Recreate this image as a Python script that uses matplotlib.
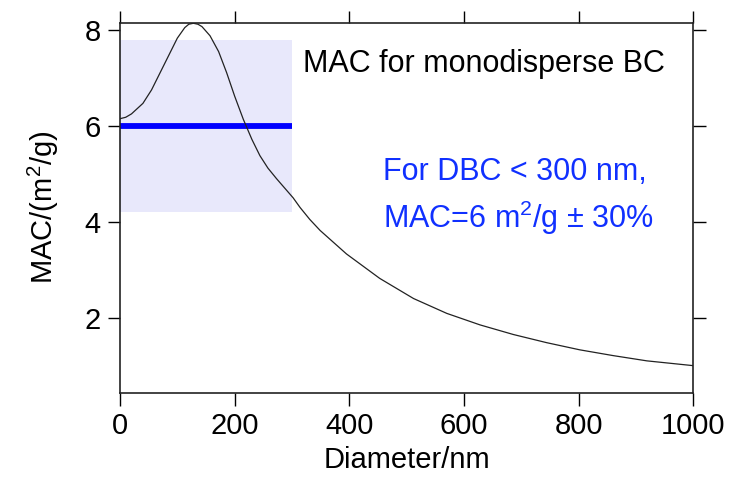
import matplotlib.pyplot as plt
from matplotlib.patches import Rectangle

plt.rcParams['font.family'] = ['Liberation Sans', 'DejaVu Sans']
plt.rcParams['mathtext.fontset'] = 'custom'
plt.rcParams['mathtext.rm'] = 'Liberation Sans'

# MAC vs. diameter for monodisperse BC
diameter = [0, 10, 20, 40, 55, 70, 85, 100, 113, 120, 128, 136, 143, 157, 172,
            186, 200, 215, 230, 244, 258, 273, 302, 314, 331, 349, 395, 453,
            512, 570, 628, 686, 744, 802, 860, 919, 1000]
mac = [6.15, 6.18, 6.25, 6.47, 6.75, 7.11, 7.47, 7.83, 8.05, 8.12, 8.14, 8.12,
       8.07, 7.88, 7.55, 7.11, 6.62, 6.14, 5.72, 5.38, 5.12, 4.90, 4.50, 4.30,
       4.05, 3.82, 3.33, 2.82, 2.40, 2.09, 1.85, 1.65, 1.48, 1.33, 1.21, 1.10,
       1.00]

# recommended value: 6 m2/g +/- 30% below 300 nm
mac_ref = 6.0
mac_unc = 0.30
d_cut = 300

xticks = [0, 200, 400, 600, 800, 1000]
yticks = [2, 4, 6, 8]

W, H = 730, 486
fig = plt.figure(figsize=(W / 100, H / 100), dpi=100)
ax = fig.add_axes([120 / W, 1 - 392.7 / H, (693.3 - 120) / W, (392.7 - 22.7) / H])

ax.add_patch(Rectangle((0, mac_ref * (1 - mac_unc)), d_cut, 2 * mac_ref * mac_unc,
                       facecolor='#e8e8fb', edgecolor='none', zorder=1))
ax.plot([0, d_cut], [mac_ref, mac_ref], color='#0000ff', lw=4.2,
        solid_capstyle='butt', zorder=2)
ax.plot(diameter, mac, color='#222222', lw=0.9, zorder=3)

ax.set_xlim(0, 1000)
ax.set_ylim(0.436, 8.152)
ax.set_xticks(xticks)
ax.set_yticks(yticks)

ax.tick_params(direction='out', length=9, width=1.0, labelsize=21,
               top=True, right=True, labeltop=False, labelright=False, pad=5)
for sp in ax.spines.values():
    sp.set_linewidth(1.2)
    sp.set_color('#222222')

ax.set_xlabel('Diameter/nm', fontsize=21, labelpad=4)
ax.set_ylabel(r'MAC/(m$^{\mathregular{2}}$/g)', fontsize=21, labelpad=17)

fig.text(303 / W, 1 - 72 / H, 'MAC for monodisperse BC', fontsize=22,
         color='black', va='baseline')
fig.text(383 / W, 1 - 180 / H, 'For DBC < 300 nm,', fontsize=22,
         color='#1030ff', va='baseline')
fig.text(383 / W, 1 - 228 / H, r'MAC=6 m$^{\mathregular{2}}$/g ± 30%', fontsize=22,
         color='#1030ff', va='baseline')

fig.savefig('out.png', dpi=100)
